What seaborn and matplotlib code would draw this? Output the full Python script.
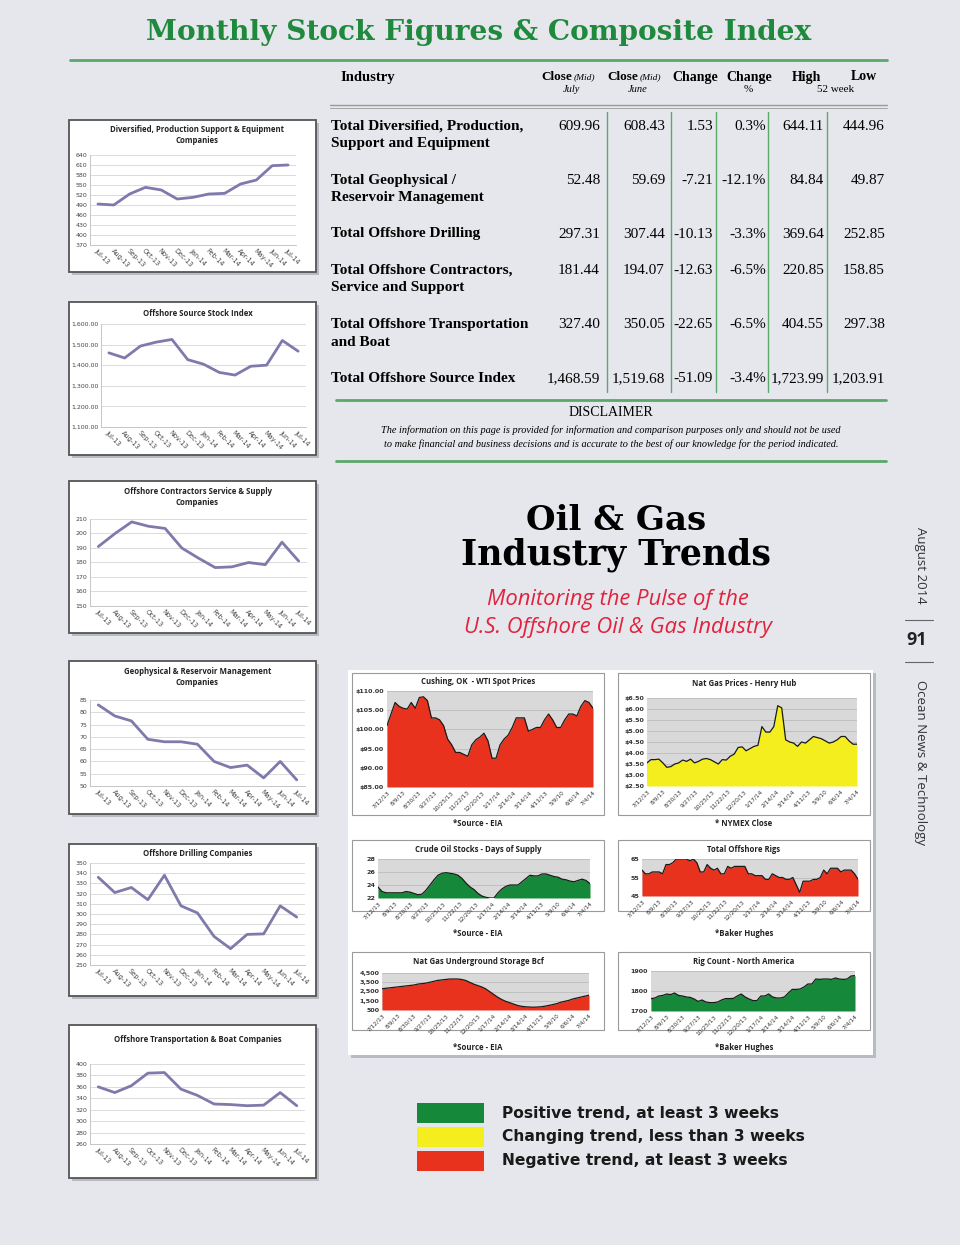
import numpy as np
import pandas as pd
import matplotlib
matplotlib.use('Agg')
import matplotlib.pyplot as plt
import seaborn as sns
from matplotlib.patches import Rectangle
from matplotlib.lines import Line2D

sns.set_theme(style='white')
plt.rcParams['font.family'] = ['DejaVu Sans']
plt.rcParams['text.color'] = 'black'

# ---------------- data ----------------
months = ['Jul-13', 'Aug-13', 'Sep-13', 'Oct-13', 'Nov-13', 'Dec-13', 'Jan-14',
          'Feb-14', 'Mar-14', 'Apr-14', 'May-14', 'Jun-14', 'Jul-14']
diversified = [493, 490, 523, 543, 535, 508, 513, 523, 525, 553, 565, 608, 610]
source_index = [1460, 1435, 1493, 1512, 1525, 1427, 1405, 1365, 1352, 1395, 1400, 1520, 1468]
contractors = [191, 200, 208, 205, 203.5, 190, 183, 176.5, 177, 180, 178.5, 194, 181]
geophysical = [83, 78.5, 76.5, 69, 68, 68, 67, 60, 57.5, 58.5, 53.3, 60, 52.5]
drilling = [336, 321, 326, 314, 338, 308, 301, 278, 266, 280, 280.5, 308, 297]
transport = [360, 350, 362, 384, 385, 356, 345, 330, 329, 327, 328, 350, 327]

week_labels = ['7/12/13', '8/9/13', '8/30/13', '9/27/13', '10/25/13', '11/22/13', '12/20/13',
               '1/17/14', '2/14/14', '3/14/14', '4/11/13', '5/9/10', '6/6/14', '7/4/14']
wti = [101, 104, 107, 106, 105.5, 105.3, 107, 105.5, 108.3, 108.5, 107.5, 103, 103, 102.5,
       101, 97.5, 96, 94, 94, 93.5, 93, 96, 97.3, 98, 99, 97, 92.5, 92.5, 96, 97.5,
       98.5, 100.5, 103, 103, 103, 99.5, 100, 100.5, 100.5, 102.5, 104, 102.5, 100.5,
       100.5, 102.5, 104, 104, 103.5, 106, 107.5, 107, 105.5]
natgas = [3.55, 3.7, 3.7, 3.72, 3.55, 3.35, 3.38, 3.5, 3.55, 3.68, 3.62, 3.72, 3.55, 3.62,
          3.72, 3.75, 3.7, 3.6, 3.5, 3.7, 3.68, 3.85, 3.95, 4.25, 4.28, 4.1, 4.2, 4.3, 4.35,
          5.2, 4.95, 4.95, 5.2, 6.15, 6.05, 4.6, 4.5, 4.45, 4.3, 4.5, 4.45, 4.6, 4.75, 4.7,
          4.65, 4.55, 4.45, 4.5, 4.6, 4.75, 4.75, 4.55, 4.4, 4.4]
crude_days = [23.7, 23.0, 22.8, 22.8, 22.8, 22.8, 22.8, 23.0, 22.9, 22.7, 22.5, 22.6, 23.2,
              24.0, 24.8, 25.5, 25.8, 25.9, 25.8, 25.7, 25.5, 25.0, 24.3, 23.7, 23.3, 22.7,
              22.3, 22.1, 22.0, 22.0, 22.8, 23.4, 23.8, 24.0, 24.0, 24.0, 24.5, 25.0, 25.5,
              25.4, 25.4, 25.7, 25.7, 25.5, 25.3, 25.2, 24.9, 24.8, 24.6, 24.5, 24.7, 24.9,
              24.7, 24.2]
offshore_rigs = [59, 57, 57, 58, 58, 58, 57, 62, 62, 63, 65, 65, 65, 65, 64, 65, 63, 58, 58,
                 62, 60, 59, 60, 57, 57, 61, 60, 61, 61, 61, 61, 57, 57, 56, 56, 56, 54, 54,
                 57, 56, 55, 55, 54, 54, 55, 51, 47, 53, 53, 53, 54, 54, 55, 59, 57, 60, 60,
                 60, 58, 59, 59, 59, 57, 54]
storage = [2800, 2850, 2900, 2950, 3000, 3050, 3100, 3150, 3200, 3300, 3350, 3400, 3500,
           3600, 3700, 3750, 3800, 3850, 3850, 3850, 3800, 3700, 3500, 3300, 3150, 3000,
           2800, 2500, 2200, 1900, 1650, 1450, 1300, 1150, 1000, 900, 850, 820, 800, 820,
           850, 920, 1000, 1100, 1200, 1350, 1450, 1550, 1700, 1800, 1900, 2000, 2100]
rig_count = [1762, 1765, 1775, 1778, 1785, 1782, 1790, 1778, 1775, 1770, 1768, 1760, 1748,
             1755, 1745, 1742, 1742, 1745, 1755, 1762, 1762, 1763, 1775, 1785, 1770, 1760,
             1752, 1752, 1775, 1775, 1785, 1770, 1765, 1765, 1770, 1790, 1808, 1808, 1810,
             1820, 1835, 1835, 1860, 1858, 1860, 1860, 1858, 1865, 1860, 1858, 1860, 1875, 1877]

industries = ['Total Diversified, Production,\nSupport and Equipment',
              'Total Geophysical /\nReservoir Management',
              'Total Offshore Drilling',
              'Total Offshore Contractors,\nService and Support',
              'Total Offshore Transportation\nand Boat',
              'Total Offshore Source Index']
close_july = ['609.96', '52.48', '297.31', '181.44', '327.40', '1,468.59']
close_june = ['608.43', '59.69', '307.44', '194.07', '350.05', '1,519.68']
change = ['1.53', '-7.21', '-10.13', '-12.63', '-22.65', '-51.09']
change_pct = ['0.3%', '-12.1%', '-3.3%', '-6.5%', '-6.5%', '-3.4%']
high_52 = ['644.11', '84.84', '369.64', '220.85', '404.55', '1,723.99']
low_52 = ['444.96', '49.87', '252.85', '158.85', '297.38', '1,203.91']

legend_labels = ['Positive trend, at least 3 weeks', 'Changing trend, less than 3 weeks',
                 'Negative trend, at least 3 weeks']

# ---------------- colours ----------------
GREEN_T = '#1f8a3d'
GREEN_L = '#5aa86a'
LINE = '#7e7aab'
RED = '#e8321e'
YELLOW = '#f5ee1e'
GREEN = '#16883a'

W, H = 960, 1245
fig = plt.figure(figsize=(9.6, 12.45), dpi=100)
fig.patch.set_facecolor('#e6e7ec')


def ax_px(x0, y0, x1, y1):
    return fig.add_axes([x0 / W, 1 - y1 / H, (x1 - x0) / W, (y1 - y0) / H])


def txt(x, y, s, **kw):
    return fig.text(x / W, 1 - y / H, s, **kw)


def hline(x0, x1, y, **kw):
    fig.add_artist(Line2D([x0 / W, x1 / W], [1 - y / H, 1 - y / H], **kw))


def vline(x, y0, y1, **kw):
    fig.add_artist(Line2D([x / W, x / W], [1 - y0 / H, 1 - y1 / H], **kw))


def rect(x0, y0, x1, y1, **kw):
    fig.add_artist(Rectangle((x0 / W, 1 - y1 / H), (x1 - x0) / W, (y1 - y0) / H,
                             transform=fig.transFigure, **kw))


def box(x0, y0, x1, y1, ec='#555555', lw=1.3, shadow=True):
    if shadow:
        rect(x0 + 3, y0 + 3, x1 + 3, y1 + 3, fc='#b9bbc2', ec='none', zorder=-3)
    rect(x0, y0, x1, y1, fc='white', ec=ec, lw=lw, zorder=-2)


# ---------------- header / title ----------------
txt(479, 33, 'Monthly Stock Figures & Composite Index', ha='center', va='center',
    fontsize=20.2, fontweight='bold', color=GREEN_T, family='DejaVu Serif')
hline(70, 887, 60, color=GREEN_L, lw=2)

serif = 'Liberation Serif'
txt(368, 77, 'Industry', ha='center', va='center', fontsize=10.5, fontweight='bold', family=serif)
txt(541, 77, 'Close', ha='left', va='center', fontsize=9.5, fontweight='bold', family=serif)
txt(574, 77.5, '(Mid)', ha='left', va='center', fontsize=6.8, style='italic', family=serif)
txt(607, 77, 'Close', ha='left', va='center', fontsize=9.5, fontweight='bold', family=serif)
txt(640, 77.5, '(Mid)', ha='left', va='center', fontsize=6.8, style='italic', family=serif)
txt(695, 77, 'Change', ha='center', va='center', fontsize=10, fontweight='bold', family=serif)
txt(749, 77, 'Change', ha='center', va='center', fontsize=10, fontweight='bold', family=serif)
txt(806, 77, 'High', ha='center', va='center', fontsize=10, fontweight='bold', family=serif)
txt(864, 77, 'Low', ha='center', va='center', fontsize=10, fontweight='bold', family=serif)
txt(572, 90, 'July', ha='center', va='center', fontsize=7.5, style='italic', family=serif)
txt(638, 90, 'June', ha='center', va='center', fontsize=7.5, style='italic', family=serif)
txt(748, 90, '%', ha='center', va='center', fontsize=8, family=serif)
txt(836, 90, '52 week', ha='center', va='center', fontsize=8, family=serif)
hline(330, 887, 105, color='#9a9a9a', lw=1)
hline(330, 887, 107.5, color='#9a9a9a', lw=0.6)

for xv in [607, 671, 716, 768, 827]:
    vline(xv, 112, 392, color=GREEN_L, lw=1)

row_y = [127, 181, 234, 271, 325, 379]
cols = [(600, close_july), (665, close_june), (713, change), (766, change_pct),
        (824, high_52), (885, low_52)]
for i, y in enumerate(row_y):
    txt(331, y - 7, industries[i], ha='left', va='top', fontsize=11, fontweight='bold',
        family=serif, linespacing=1.45)
    for xr, col in cols:
        txt(xr, y, col[i], ha='right', va='center', fontsize=11, family=serif)

hline(336, 886, 400, color=GREEN_L, lw=2)
txt(611, 413, 'DISCLAIMER', ha='center', va='center', fontsize=10, family=serif)
txt(611, 430, 'The information on this page is provided for information and comparison purposes only and should not be used',
    ha='center', va='center', fontsize=7.4, style='italic', family=serif)
txt(611, 444, 'to make financial and business decisions and is accurate to the best of our knowledge for the period indicated.',
    ha='center', va='center', fontsize=7.4, style='italic', family=serif)
hline(336, 886, 461, color=GREEN_L, lw=2)

# ---------------- centre title ----------------
txt(616, 520, 'Oil & Gas', ha='center', va='center', fontsize=24.5, fontweight='bold',
    family='DejaVu Serif', color='black')
txt(616, 555, 'Industry Trends', ha='center', va='center', fontsize=25, fontweight='bold',
    family='DejaVu Serif', color='black')
txt(618, 599, 'Monitoring the Pulse of the', ha='center', va='center', fontsize=15.8,
    style='italic', color='#e2213c', family='Open Sans')
txt(618, 628, 'U.S. Offshore Oil & Gas Industry', ha='center', va='center', fontsize=15.8,
    style='italic', color='#e2213c', family='Open Sans')

# ---------------- right margin ----------------
txt(920, 565, 'August 2014', ha='center', va='center', rotation=-90, fontsize=9.5,
    family='Open Sans', color='#333')
hline(905, 933, 620, color='#666', lw=0.8)
txt(917, 640, '91', ha='center', va='center', fontsize=13, fontweight='bold',
    family='Open Sans', color='#222')
hline(905, 933, 662, color='#666', lw=0.8)
txt(920, 762, 'Ocean News & Technology', ha='center', va='center', rotation=-90,
    fontsize=9.5, family='Open Sans', color='#333')


# ---------------- left line charts ----------------
def left_chart(bx, px, title, title_y, vals, ylim, yticks, fmt):
    box(*bx)
    ax = ax_px(*px)
    df = pd.DataFrame({'month': months, 'value': vals})
    sns.lineplot(data=df, x='month', y='value', ax=ax, color=LINE, lw=2, sort=False)
    ax.set_facecolor('white')
    ax.set_xlim(-0.5, len(months) - 0.5)
    ax.set_ylim(ylim)
    ax.set_yticks(yticks)
    ax.set_yticklabels([fmt.format(v) for v in yticks], fontsize=4.5, color='#444')
    ax.set_xticks(range(len(months)))
    ax.set_xticklabels(months, rotation=-45, ha='left', rotation_mode='anchor',
                       fontsize=4.8, color='#444')
    ax.grid(axis='y', color='#d6d6d6', lw=0.6)
    ax.set_xlabel('')
    ax.set_ylabel('')
    for s in ['top', 'right']:
        ax.spines[s].set_visible(False)
    for s in ['left', 'bottom']:
        ax.spines[s].set_color('#bdbdbd')
        ax.spines[s].set_linewidth(0.6)
    ax.tick_params(length=0, pad=2)
    txt((bx[0] + bx[2]) / 2 + 5, title_y, title, ha='center', va='center', fontsize=5.6,
        fontweight='bold', family='Open Sans', color='#222', linespacing=1.3)


left_chart((69, 120, 316, 272), (90, 155, 296, 245),
           'Diversified, Production Support & Equipment\nCompanies', 135,
           diversified, (370, 640), list(range(370, 641, 30)), '{:d}')
left_chart((69, 302, 316, 455), (101, 324, 306, 427), 'Offshore Source Stock Index', 314,
           source_index, (1100, 1600), list(range(1100, 1601, 100)), '{:,.2f}')
left_chart((69, 481, 316, 633), (90, 519, 307, 606),
           'Offshore Contractors Service & Supply\nCompanies', 497,
           contractors, (150, 210), list(range(150, 211, 10)), '{:d}')
left_chart((69, 661, 316, 814), (90, 700, 305, 786),
           'Geophysical & Reservoir Management\nCompanies', 677,
           geophysical, (50, 85), list(range(50, 86, 5)), '{:d}')
left_chart((69, 844, 316, 996), (90, 863, 305, 965), 'Offshore Drilling Companies', 853,
           drilling, (250, 350), list(range(250, 351, 10)), '{:d}')
left_chart((69, 1025, 316, 1178), (90, 1064, 305, 1144),
           'Offshore Transportation & Boat Companies', 1040,
           transport, (260, 400), list(range(260, 401, 20)), '{:d}')

# ---------------- right area charts ----------------
rect(351, 673, 876, 1058, fc='#b9bbc2', ec='none', zorder=-4)
rect(348, 670, 873, 1055, fc='white', ec='none', zorder=-3)


def area_chart(bx, px, title, title_y, source, source_y, vals, ylim, yticks, ylabels, color):
    box(*bx, ec='#9a9a9a', lw=0.8, shadow=False)
    ax = ax_px(*px)
    x = np.arange(len(vals))
    ax.fill_between(x, vals, ylim[0], color=color, lw=0, zorder=2)
    sns.lineplot(x=x, y=vals, ax=ax, color='#1a1a1a', lw=0.9, zorder=3)
    ax.set_facecolor('#d9d9d9')
    ax.set_xlim(0, len(vals) - 1)
    ax.set_ylim(ylim)
    ax.set_yticks(yticks)
    ax.set_yticklabels(ylabels, fontsize=4.6, color='#333', fontweight='bold')
    ax.set_xticks(np.linspace(0, len(vals) - 1, len(week_labels)))
    ax.set_xticklabels(week_labels, rotation=45, ha='right', rotation_mode='anchor',
                       fontsize=4.2, color='#333')
    ax.grid(axis='y', color='#bcbcbc', lw=0.6, zorder=1)
    ax.set_axisbelow(True)
    for s in ax.spines.values():
        s.set_visible(False)
    ax.tick_params(length=0, pad=2)
    cx = (bx[0] + bx[2]) / 2
    txt(cx, title_y, title, ha='center', va='center', fontsize=5.6, fontweight='bold',
        family='Open Sans', color='#222')
    txt(cx, source_y, source, ha='center', va='center', fontsize=5.6, fontweight='bold',
        family='Open Sans', color='#222')


area_chart((352, 673, 604, 815), (387, 691, 593, 787), 'Cushing, OK  - WTI Spot Prices', 682,
           '*Source - EIA', 824, wti, (85, 110), [85, 90, 95, 100, 105, 110],
           ['$85.00', '$90.00', '$95.00', '$100.00', '$105.00', '$110.00'], RED)
area_chart((618, 673, 870, 815), (647, 698, 857, 786), 'Nat Gas Prices - Henry Hub', 684,
           '* NYMEX Close', 824, natgas, (2.5, 6.5), list(np.arange(2.5, 6.51, 0.5)),
           ['${:.2f}'.format(v) for v in np.arange(2.5, 6.51, 0.5)], YELLOW)
area_chart((352, 840, 604, 911), (378, 859, 590, 898), 'Crude Oil Stocks - Days of Supply', 849,
           '*Source - EIA', 934, crude_days, (22, 28), [22, 24, 26, 28],
           ['22', '24', '26', '28'], GREEN)
area_chart((618, 840, 870, 911), (642, 859, 858, 896), 'Total Offshore Rigs', 850,
           '*Baker Hughes', 934, offshore_rigs, (45, 65), [45, 55, 65],
           ['45', '55', '65'], RED)
area_chart((352, 952, 604, 1030), (382, 973, 589, 1010), 'Nat Gas Underground Storage Bcf', 962,
           '*Source - EIA', 1047, storage, (500, 4500), [500, 1500, 2500, 3500, 4500],
           ['500', '1,500', '2,500', '3,500', '4,500'], RED)
area_chart((618, 952, 870, 1030), (651, 971, 855, 1011), 'Rig Count - North America', 961,
           '*Baker Hughes', 1048, rig_count, (1700, 1900), [1700, 1800, 1900],
           ['1700', '1800', '1900'], GREEN)

# ---------------- legend ----------------
for i, (c, lab) in enumerate(zip([GREEN, YELLOW, RED], legend_labels)):
    y0 = 1103 + i * 24
    rect(417, y0, 484, y0 + 20, fc=c, ec='none', zorder=-1)
    txt(502, y0 + 10, lab, ha='left', va='center', fontsize=11.2, fontweight='bold',
        color='#1a1a1a')

fig.savefig('out.png', dpi=100, facecolor=fig.get_facecolor())
